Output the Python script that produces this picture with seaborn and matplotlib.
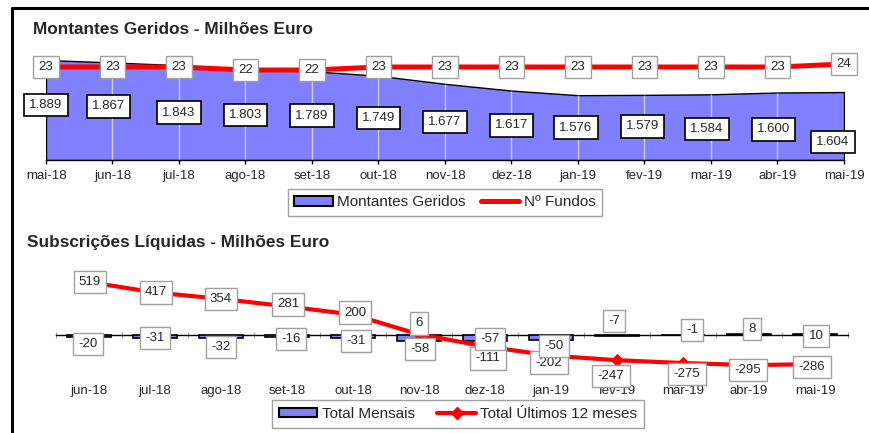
import numpy as np
import seaborn as sns
import matplotlib
matplotlib.use("Agg")
import matplotlib.pyplot as plt
from matplotlib.patches import Patch
from matplotlib.lines import Line2D

# --- data ---
meses = ['mai-18', 'jun-18', 'jul-18', 'ago-18', 'set-18', 'out-18', 'nov-18',
         'dez-18', 'jan-19', 'fev-19', 'mar-19', 'abr-19', 'mai-19']
montantes = [1889, 1867, 1843, 1803, 1789, 1749, 1677, 1617, 1576, 1579, 1584, 1600, 1604]
n_fundos = [23, 23, 23, 22, 22, 23, 23, 23, 23, 23, 23, 23, 24]

meses_sub = meses[1:]
total_mensais = [-20, -31, -32, -16, -31, -58, -57, -50, -7, -1, 8, 10]
total_12m = [519, 417, 354, 281, 200, 6, -111, -202, -247, -275, -295, -286]

# label nudges in pixels (dx right, dy down)
mont_dx = [0, -4, 0, 0, 0, 0, 0, 0, -2, -2, -4, -4, -11]
mont_dy = [-5, -5, 0, 0, 0, 0, 0, 0, 0, -1, 2, 3, 16]
l12_dx = [1, 1, 0, 1, 2, 0, 3, -2, -6, 4, -1, -3]
l12_dy = [0, 0, 0, -2, -2, -11, 12, 7, 16, 11, 5, 3]
mens_dx = [-1, 0, 0, 4, 3, 1, 5, 3, -3, 9, 3, 1]
mens_dy = [9, 3, 12, 4, 6, 14, 4, 11, -14, -5, -6, 1]

sns.set_style('white')
plt.rcParams['font.family'] = ['Liberation Sans', 'DejaVu Sans']

BLUE = '#8080ff'
RED = '#ff0000'
W, H = 870, 433

fig = plt.figure(figsize=(8.7, 4.33), dpi=100)


def box(ec, lw=1):
    return dict(boxstyle='square,pad=0.4', fc='white', ec=ec, lw=lw)


# ---------------- top chart ----------------
ax = fig.add_axes([46 / W, 1 - 160 / H, (844 - 46) / W, 112.5 / H])
x = np.arange(len(meses))
ax.fill_between(x, montantes, 1000, facecolor=BLUE, edgecolor='black', lw=1, zorder=1)
ax.vlines(x[1:-1], 1000, montantes[1:-1], color='white', lw=1, alpha=0.6, zorder=1.5)
ax.set_xlim(0, 12)
ax.set_ylim(1000, 2000)
ax.set_xticks(x)
ax.set_xticklabels(meses)
ax.set_yticks([])
ax.tick_params(axis='x', bottom=True, length=3, width=1, color='black', pad=4, labelsize=9.5)
for s in ['top', 'right', 'left']:
    ax.spines[s].set_visible(False)
ax.spines['bottom'].set_color('black')
ax.spines['bottom'].set_linewidth(1)

for i, v in enumerate(montantes):
    ax.annotate(f"{v:,}".replace(',', '.'), ((i), (v + 1000) / 2),
                xytext=(mont_dx[i], -mont_dy[i]), textcoords='offset pixels',
                ha='center', va='center', fontsize=9.5, bbox=box('black', 1.2), zorder=5)

ax2 = ax.twinx()
sns.lineplot(x=x, y=n_fundos, ax=ax2, color=RED, lw=3.6, legend=False)
ax2.set_ylim(-8, 29.5)
ax2.set_xlim(0, 12)
ax2.axis('off')
for i, v in enumerate(n_fundos):
    ax2.annotate(str(v), (i, v), ha='center', va='center', fontsize=9.5,
                 bbox=box('#a0a0a0'), zorder=5)

fig.text(33 / W, 1 - 30 / H, 'Montantes Geridos - Milhões Euro',
         fontsize=12.4, fontweight='bold', ha='left', va='center')

fig.legend([Patch(facecolor=BLUE, edgecolor='black', lw=1.5),
            Line2D([], [], color=RED, lw=3.6)],
           ['Montantes Geridos', 'Nº Fundos'],
           loc='center', bbox_to_anchor=(445 / W, 1 - 202.5 / H), ncol=2,
           fancybox=False, edgecolor='#a0a0a0', framealpha=1, fontsize=11,
           handlelength=2.5, handleheight=0.55, handletextpad=0.3,
           columnspacing=1.0, borderpad=0.45)

# ---------------- bottom chart ----------------
axb = fig.add_axes([56 / W, 1 - 375.8 / H, (848 - 56) / W, 102 / H])
sns.barplot(x=meses_sub, y=total_mensais, ax=axb, color=BLUE, saturation=1,
            edgecolor='black', linewidth=1.2, width=0.68, zorder=2)
xb = np.arange(len(meses_sub))
sns.lineplot(x=xb, y=total_12m, ax=axb, color=RED, lw=3, marker='D', markersize=6,
             markeredgecolor=RED, legend=False, zorder=3)
axb.set_xlim(-0.5, 11.5)
axb.set_ylim(-400, 600)
axb.set_yticks([])
axb.set_ylabel('')
axb.set_xticks(xb)
axb.set_xticklabels(meses_sub)
axb.set_xticks(np.arange(-0.5, 12, 1), minor=True)
axb.tick_params(axis='x', which='major', length=0, pad=36, labelsize=9.5)
axb.tick_params(axis='x', which='minor', bottom=True, length=4, width=0.8,
                direction='inout', color='#a0a0a0')
for s in ['top', 'right', 'left']:
    axb.spines[s].set_visible(False)
axb.spines['bottom'].set_position(('data', 0))
axb.spines['bottom'].set_color('black')
axb.spines['bottom'].set_linewidth(1)
axb.spines['bottom'].set_zorder(1)

for i, v in enumerate(total_12m):
    axb.annotate(str(v), (i, v), xytext=(l12_dx[i], -l12_dy[i]), textcoords='offset pixels',
                 ha='center', va='center', fontsize=9.5, bbox=box('#a0a0a0'), zorder=6)
for i, v in enumerate(total_mensais):
    axb.annotate(str(v), (i, 0), xytext=(mens_dx[i], -mens_dy[i]), textcoords='offset pixels',
                 ha='center', va='center', fontsize=9.5, bbox=box('#a0a0a0'), zorder=6)

fig.text(27 / W, 1 - 243 / H, 'Subscrições Líquidas - Milhões Euro',
         fontsize=12.4, fontweight='bold', ha='left', va='center')

fig.legend([Patch(facecolor=BLUE, edgecolor='black', lw=1.5),
            Line2D([], [], color=RED, lw=3, marker='D', markersize=6)],
           ['Total Mensais', 'Total Últimos 12 meses'],
           loc='center', bbox_to_anchor=(458 / W, 1 - 414 / H), ncol=2,
           fancybox=False, edgecolor='#a0a0a0', framealpha=1, fontsize=11,
           handlelength=2.5, handleheight=0.55, handletextpad=0.3,
           columnspacing=1.5, borderpad=0.45)

# outer frame (top and left)
fig.add_artist(Line2D([12 / W, 1], [1 - 7.5 / H] * 2, transform=fig.transFigure,
                      color='black', lw=2.2))
fig.add_artist(Line2D([12 / W] * 2, [0, 1 - 7.5 / H], transform=fig.transFigure,
                      color='black', lw=2.2))

fig.savefig('out.png', dpi=100)
